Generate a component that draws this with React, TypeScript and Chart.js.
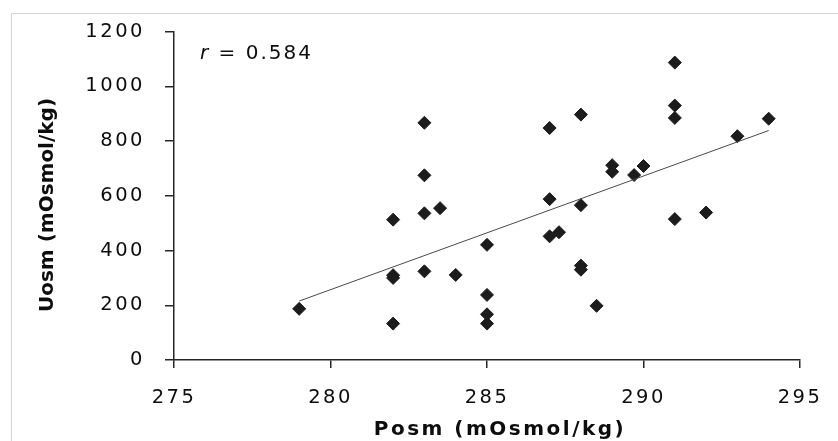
import React, { useEffect, useRef } from 'react';
import { Chart, registerables } from 'chart.js';

Chart.register(...registerables);

// Plasma osmolality (x) and urine osmolality (y)
const posm = [279, 282, 282, 282, 282, 283, 283, 283, 283, 283.5, 284, 285, 285, 285, 285, 287, 287, 287, 287.3, 288, 288, 288, 288, 288.5, 289, 289, 289.7, 290, 291, 291, 291, 291, 292, 293, 294];
const uosm = [187, 513, 310, 300, 133, 867, 675, 536, 324, 555, 311, 421, 238, 167, 133, 848, 588, 452, 467, 897, 566, 345, 330, 198, 712, 688, 676, 709, 1087, 930, 885, 515, 539, 818, 882];

const xTicks = [275, 280, 285, 290, 295];
const yTicks = [0, 200, 400, 600, 800, 1000, 1200];

const xTitle = 'Posm (mOsmol/kg)';
const yTitle = 'Uosm (mOsmol/kg)';
const rText = ' = 0.584';

function regression(xs: number[], ys: number[]) {
  const n = xs.length;
  const mx = xs.reduce((a, b) => a + b, 0) / n;
  const my = ys.reduce((a, b) => a + b, 0) / n;
  let sxy = 0;
  let sxx = 0;
  for (let i = 0; i < n; i++) {
    sxy += (xs[i] - mx) * (ys[i] - my);
    sxx += (xs[i] - mx) * (xs[i] - mx);
  }
  const b = sxy / sxx;
  const a = my - b * mx;
  return { a, b };
}

const TEXT = '#0d0d0d';
const AXIS = '#262626';
const TICK_SPACING = '2.5px';

const decor = {
  id: 'decor',
  beforeLayout(chart: any) {
    (chart.ctx as any).letterSpacing = TICK_SPACING;
  },
  beforeDraw(chart: any) {
    const ctx = chart.ctx;
    ctx.save();
    ctx.fillStyle = '#ffffff';
    ctx.fillRect(0, 0, chart.width, chart.height);
    ctx.strokeStyle = '#d4d4d4';
    ctx.lineWidth = 1;
    ctx.beginPath();
    ctx.moveTo(11.5, chart.height);
    ctx.lineTo(11.5, 13.5);
    ctx.lineTo(chart.width, 13.5);
    ctx.stroke();
    ctx.restore();
    (ctx as any).letterSpacing = TICK_SPACING;
  },
  afterDraw(chart: any) {
    const ctx = chart.ctx;
    ctx.save();
    ctx.fillStyle = TEXT;
    // x title
    (ctx as any).letterSpacing = '2.5px';
    ctx.font = 'bold 20px "DejaVu Sans"';
    ctx.textAlign = 'center';
    ctx.textBaseline = 'alphabetic';
    ctx.fillText(xTitle, 500, 435);
    // y title
    ctx.save();
    (ctx as any).letterSpacing = '0px';
    ctx.translate(53, 205);
    ctx.rotate(-Math.PI / 2);
    ctx.fillText(yTitle, 0, 0);
    ctx.restore();
    // r annotation
    (ctx as any).letterSpacing = '2px';
    ctx.textAlign = 'left';
    ctx.font = 'italic 20px "DejaVu Sans"';
    ctx.fillText('r', 200, 59);
    const w = ctx.measureText('r').width;
    ctx.font = '20px "DejaVu Sans"';
    ctx.fillText(rText, 200 + w, 59);
    ctx.restore();
  },
};

export default function App() {
  const ref = useRef<HTMLCanvasElement>(null);

  useEffect(() => {
    const points = posm.map((x, i) => ({ x, y: uosm[i] }));
    const { a, b } = regression(posm, uosm);
    const x0 = Math.min(...posm);
    const x1 = Math.max(...posm);
    const trend = [
      { x: x0, y: a + b * x0 },
      { x: x1, y: a + b * x1 },
    ];

    const tickFont = { family: 'DejaVu Sans', size: 19.5 };

    const chart = new Chart(ref.current as HTMLCanvasElement, {
      type: 'scatter',
      data: {
        datasets: [
          {
            type: 'line',
            data: trend,
            borderColor: '#4a4a4a',
            borderWidth: 1,
            pointRadius: 0,
            fill: false,
            order: 0,
          } as any,
          {
            data: points,
            pointStyle: 'rectRot',
            pointRadius: 6.5,
            pointHoverRadius: 6.5,
            backgroundColor: '#1c1c1c',
            borderColor: '#1c1c1c',
            borderWidth: 1,
            order: 1,
          },
        ],
      },
      options: {
        animation: false,
        responsive: false,
        layout: { padding: { top: 30, right: 38, left: 0, bottom: 0 } },
        plugins: {
          legend: { display: false },
          tooltip: { enabled: false },
        },
        scales: {
          x: {
            type: 'linear',
            min: xTicks[0],
            max: xTicks[xTicks.length - 1],
            afterBuildTicks: (s: any) => {
              s.ticks = xTicks.map((v) => ({ value: v }));
            },
            afterFit: (s: any) => {
              s.height = 81;
              s.paddingLeft = 0;
              s.paddingRight = 0;
            },
            grid: {
              drawOnChartArea: false,
              drawTicks: true,
              tickLength: 8,
              color: AXIS,
              lineWidth: 1.5,
            },
            border: { display: true, color: AXIS, width: 1.5 },
            ticks: {
              font: tickFont,
              color: TEXT,
              padding: 18,
              maxRotation: 0,
              autoSkip: false,
              callback: (v: any) => String(v),
            },
          },
          y: {
            type: 'linear',
            min: yTicks[0],
            max: yTicks[yTicks.length - 1],
            afterBuildTicks: (s: any) => {
              s.ticks = yTicks.map((v) => ({ value: v }));
            },
            afterFit: (s: any) => {
              s.width = 174;
            },
            grid: {
              drawOnChartArea: false,
              drawTicks: true,
              tickLength: 9,
              color: AXIS,
              lineWidth: 1.5,
            },
            border: { display: true, color: AXIS, width: 1.5 },
            ticks: {
              font: tickFont,
              color: TEXT,
              padding: 20,
              autoSkip: false,
              callback: (v: any) => String(v),
            },
          },
        },
      },
      plugins: [decor],
    });

    return () => chart.destroy();
  }, []);

  return (
    <div style={{ position: 'fixed', left: 0, top: 0, width: 838, height: 441, background: '#fff', overflow: 'hidden' }}>
      <canvas ref={ref} width={838} height={441} style={{ display: 'block', width: 838, height: 441 }} />
    </div>
  );
}
